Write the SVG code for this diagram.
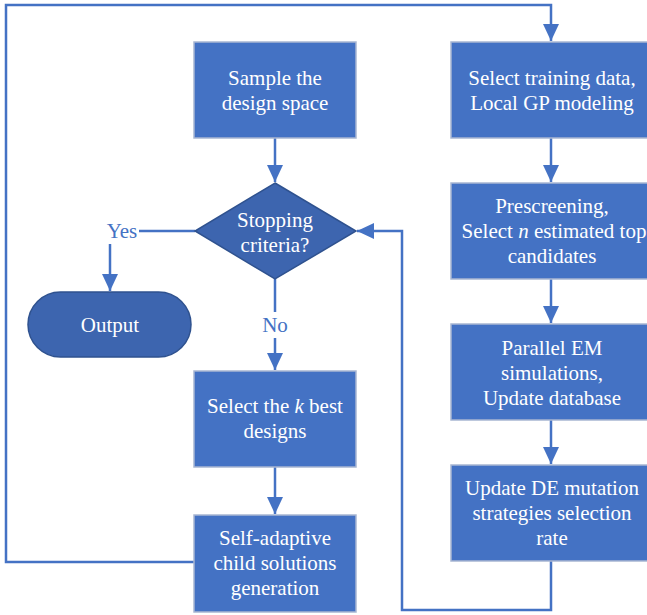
<svg xmlns="http://www.w3.org/2000/svg" width="647" height="615" viewBox="0 0 647 615">
<defs>
<marker id="ah" markerWidth="17" markerHeight="16" refX="17" refY="8" orient="auto" markerUnits="userSpaceOnUse">
<path d="M0,0 L17,8 L0,16 Z" fill="#4472C4"/>
</marker>
<style>
.box{fill:#4472C4;stroke:#A8B6D2;stroke-width:1.5}
.dark{fill:#3D65AF;stroke:#2F528F;stroke-width:1.5}
.t{font-size:21px;fill:#FFFFFF;text-anchor:middle}
.lbl{font-size:21px;fill:#4472C4;text-anchor:middle}
.c{fill:none;stroke:#4472C4;stroke-width:2.5}
</style>
</defs>
<rect width="647" height="615" fill="#FFFFFF"/>
<g font-family="'Liberation Serif', 'Times New Roman', 'DejaVu Serif', serif">
<g id="connectors">
<path class="c" d="M194,562 H6 V5 H551 V41" marker-end="url(#ah)"/>
<path class="c" d="M275,138 V182" marker-end="url(#ah)"/>
<path class="c" d="M195,231 H139"/>
<path class="c" d="M110,244 V291" marker-end="url(#ah)"/>
<path class="c" d="M275,279 V312"/>
<path class="c" d="M275,338 V370" marker-end="url(#ah)"/>
<path class="c" d="M275,467 V514" marker-end="url(#ah)"/>
<path class="c" d="M551,138 V182" marker-end="url(#ah)"/>
<path class="c" d="M551,279 V323" marker-end="url(#ah)"/>
<path class="c" d="M551,420 V464" marker-end="url(#ah)"/>
<path class="c" d="M551,561 V610 H402 V231 H357" marker-end="url(#ah)"/>
<text class="lbl" x="122" y="238">Yes</text>
<text class="lbl" x="275" y="332">No</text>
</g>
<g id="sample">
<rect class="box" x="194" y="42" width="162" height="96"/>
<text class="t" x="275" y="85">Sample the</text>
<text class="t" x="275" y="110">design space</text>
</g>
<g id="stopping">
<path class="dark" d="M275,183 L356,231 L275,279 L195,231 Z"/>
<text class="t" x="275" y="227">Stopping</text>
<text class="t" x="275" y="252">criteria?</text>
</g>
<g id="output">
<rect class="dark" x="28" y="292" width="163" height="65" rx="32.5" ry="32.5"/>
<text class="t" x="110" y="332">Output</text>
</g>
<g id="selectk">
<rect class="box" x="194" y="371" width="162" height="96"/>
<text class="t" x="275" y="413">Select the <tspan font-style="italic">k</tspan> best</text>
<text class="t" x="275" y="438">designs</text>
</g>
<g id="selfadaptive">
<rect class="box" x="194" y="515" width="162" height="97"/>
<text class="t" x="275" y="545">Self-adaptive</text>
<text class="t" x="275" y="570">child solutions</text>
<text class="t" x="275" y="595">generation</text>
</g>
<g id="training">
<rect class="box" x="451" y="42" width="202" height="96"/>
<text class="t" x="552" y="85">Select training data,</text>
<text class="t" x="552" y="110">Local GP modeling</text>
</g>
<g id="prescreening">
<rect class="box" x="451" y="183" width="202" height="96"/>
<text class="t" x="552" y="213">Prescreening,</text>
<text class="t" x="554" y="238">Select <tspan font-style="italic">n</tspan> estimated top</text>
<text class="t" x="552" y="263">candidates</text>
</g>
<g id="parallel">
<rect class="box" x="451" y="324" width="202" height="96"/>
<text class="t" x="552" y="355">Parallel EM</text>
<text class="t" x="552" y="380">simulations,</text>
<text class="t" x="552" y="405">Update database</text>
</g>
<g id="updatede">
<rect class="box" x="451" y="465" width="202" height="96"/>
<text class="t" x="552" y="495">Update DE mutation</text>
<text class="t" x="552" y="520">strategies selection</text>
<text class="t" x="552" y="545">rate</text>
</g>
</g>
</svg>
